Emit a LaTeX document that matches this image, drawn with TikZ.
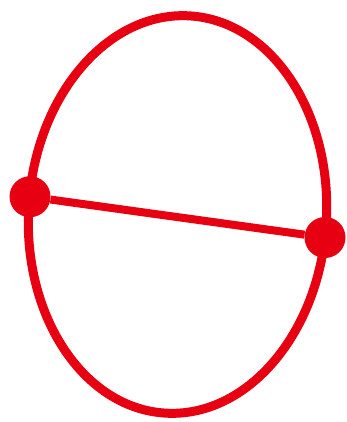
\documentclass[tikz,border=0pt]{standalone}
\usetikzlibrary{positioning}
\definecolor{loopred}{RGB}{230,0,18}
\begin{document}
\begin{tikzpicture}[x=1pt,y=-1pt,
  orbit/.style={draw=loopred,line width=9pt},
  rung/.style={draw=loopred,line width=8pt},
  vdot/.style={circle,fill=loopred,minimum size=41pt,inner sep=0pt}]
 \useasboundingbox (0,0) rectangle (346,422);

 % ---- outer loop ----
 \draw[orbit,rotate around={-3.6:(177.5,214.5)}] (177.5,214.5) ellipse [x radius=149, y radius=199];

 % ---- vertices ----
 \node[vdot] (L) at (30,196.7) {};
 \node[vdot] (R) at (325,237.5) {};

 % ---- chord ----
 \draw[rung] (L) -- (R);
\end{tikzpicture}
\end{document}
